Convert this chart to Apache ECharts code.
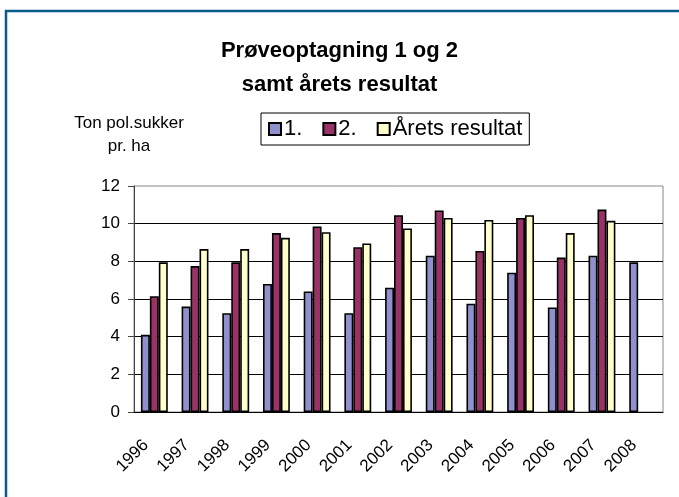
<!DOCTYPE html>
<html>
<head>
<meta charset="utf-8">
<script src="https://cdn.jsdelivr.net/npm/echarts@6/dist/echarts.min.js"></script>
<style>
  html, body { margin: 0; padding: 0; background: #fff; }
  #chart { width: 679px; height: 497px; }
</style>
</head>
<body>
<div id="chart"></div>
<script>
// år og værdier
const years = ['1996', '1997', '1998', '1999', '2000', '2001', '2002', '2003', '2004', '2005', '2006', '2007', '2008'];
const sample1 = [4.1, 5.6, 5.25, 6.8, 6.4, 5.25, 6.6, 8.3, 5.75, 7.4, 5.55, 8.3, 7.95];
const sample2 = [6.15, 7.75, 7.95, 9.5, 9.85, 8.75, 10.45, 10.7, 8.55, 10.3, 8.2, 10.75, null];
const yearResult = [7.95, 8.65, 8.65, 9.25, 9.55, 8.95, 9.75, 10.3, 10.2, 10.45, 9.5, 10.15, null];
const seriesNames = ['1.', '2.', 'Årets resultat'];
const yTicks = [0, 2, 4, 6, 8, 10, 12];

const font = 'Liberation Sans, Arial, sans-serif';
const chart = echarts.init(document.getElementById('chart'));

function barSeries(name, data, color) {
  return {
    name: name,
    type: 'bar',
    data: data,
    barGap: 0,
    barCategoryGap: '34%',
    itemStyle: { color: color, borderColor: '#000', borderWidth: 1.6 }
  };
}

chart.setOption({
  backgroundColor: '#fff',
  animation: false,
  title: {
    text: 'Prøveoptagning 1 og 2\nsamt årets resultat',
    left: 'center',
    top: 29,
    textStyle: { fontFamily: font, fontSize: 22, fontWeight: 'bold', color: '#000', lineHeight: 34 }
  },
  legend: {
    data: seriesNames,
    icon: 'rect',
    left: 261,
    top: 113,
    padding: [5, 7],
    itemGap: 20,
    itemWidth: 12,
    itemHeight: 12,
    borderColor: '#000',
    borderWidth: 1,
    textStyle: { fontFamily: font, fontSize: 22, color: '#000', padding: [0, 0, 0, -2] }
  },
  graphic: [
    {
      type: 'text',
      x: 129,
      y: 112,
      style: {
        text: 'Ton pol.sukker\npr. ha',
        font: '17px ' + font,
        fill: '#000',
        align: 'center',
        verticalAlign: 'top',
        lineHeight: 23
      }
    },
    {
      type: 'polyline',
      shape: { points: [[6, 497], [6, 11], [679, 11]] },
      style: { stroke: '#0a5a8c', lineWidth: 2.5, fill: null }
    }
  ],
  grid: {
    left: 134, right: 16, top: 186, bottom: 85,
    show: true,
    borderColor: '#888',
    borderWidth: 1
  },
  xAxis: {
    type: 'category',
    data: years,
    axisLine: { lineStyle: { color: '#000', width: 1 } },
    axisTick: { length: 5, lineStyle: { color: '#555' } },
    axisLabel: { rotate: 45, margin: 22, padding: [0, 12, 0, 0], fontFamily: font, fontSize: 17, color: '#000' }
  },
  yAxis: {
    type: 'value',
    min: yTicks[0],
    max: yTicks[yTicks.length - 1],
    interval: 2,
    axisLine: { show: true, lineStyle: { color: '#444', width: 1 } },
    axisTick: { show: true, length: 6, lineStyle: { color: '#444' } },
    splitLine: { showMaxLine: false, lineStyle: { color: '#000', width: 1 } },
    axisLabel: { margin: 14, fontFamily: font, fontSize: 17, color: '#000' }
  },
  series: [
    barSeries(seriesNames[0], sample1, '#9090CC'),
    barSeries(seriesNames[1], sample2, '#993366'),
    barSeries(seriesNames[2], yearResult, '#FFFFCC')
  ]
});
</script>
</body>
</html>
